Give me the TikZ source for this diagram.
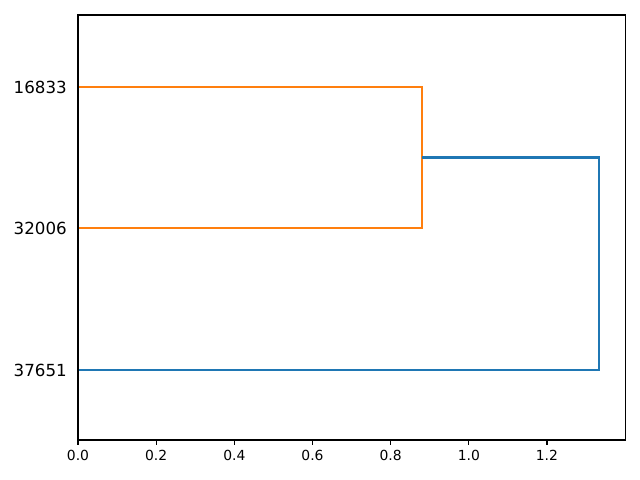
\documentclass[tikz,border=0pt]{standalone}
\usepackage{fontspec}
\setmainfont{DejaVu Sans}
\definecolor{mplorange}{HTML}{FF7F0E}
\definecolor{mplblue}{HTML}{1F77B4}
\begin{document}
\begin{tikzpicture}[x=0.72pt,y=-0.72pt,
  link/.style={line width=1.5pt},
  spine/.style={line width=0.8pt,line cap=rect},
  tick/.style={line width=0.8pt},
  xlab/.style={anchor=north,inner sep=0pt,font=\fontsize{10}{12}\selectfont},
  ylab/.style={anchor=east,inner sep=0pt,font=\fontsize{12}{14}\selectfont}]
\useasboundingbox[fill=white] (0,0) rectangle (640,480);
% leaf labels
\node[ylab] (l1) at (67,87) {16833};
\node[ylab] (l2) at (67,228) {32006};
\node[ylab] (l3) at (67,370) {37651};
% link corners
\coordinate (a1) at (78,87);
\coordinate (a2) at (422,87);
\coordinate (a3) at (422,228);
\coordinate (a4) at (78,228);
\coordinate (b1) at (422,157.5);
\coordinate (b2) at (599,157.5);
\coordinate (b3) at (599,370);
\coordinate (b4) at (78,370);
\draw[link,mplorange] (a1) -- (a2) -- (a3) -- (a4);
\draw[link,mplblue] (b1) -- (b2) -- (b3) -- (b4);
% axes frame
\draw[spine] (78,15) rectangle (625.5,440);
% x ticks
\foreach \v/\t in {0/0.0,1/0.2,2/0.4,3/0.6,4/0.8,5/1.0,6/1.2}{
  \pgfmathsetmacro{\px}{78+\v*0.2*390.8}
  \draw[tick] (\px,440) -- (\px,444.9);
  \node[xlab] (xt\v) at (\px,449.7) {\t};
}
\end{tikzpicture}
\end{document}
